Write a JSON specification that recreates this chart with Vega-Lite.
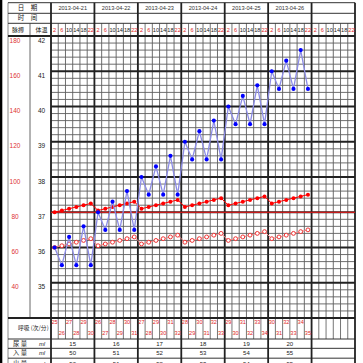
{
"$schema":"https://vega.github.io/schema/vega-lite/v6.json",
"width":304,"height":282,
"autosize":{"type":"none"},
"padding":{"left":51,"top":36,"right":8,"bottom":45},
"background":"white",
"config":{"view":{"stroke":null},"text":{"font":"Liberation Sans","fontSize":5.6,"baseline":"middle","align":"center"}},
"datasets":{
"slots":[
{"slot":0,"hour":2,"date":"2013-04-21","temp":36.0,"pulse":80,"hr":60,"resp":25},
{"slot":1,"hour":6,"date":"2013-04-21","temp":35.5,"pulse":81,"hr":61,"resp":26},
{"slot":2,"hour":10,"date":"2013-04-21","temp":36.3,"pulse":82,"hr":62,"resp":27},
{"slot":3,"hour":14,"date":"2013-04-21","temp":35.5,"pulse":83,"hr":63,"resp":28},
{"slot":4,"hour":18,"date":"2013-04-21","temp":36.6,"pulse":84,"hr":64,"resp":29},
{"slot":5,"hour":22,"date":"2013-04-21","temp":35.5,"pulse":85,"hr":65,"resp":30},
{"slot":6,"hour":2,"date":"2013-04-22","temp":37.0,"pulse":81,"hr":61,"resp":26},
{"slot":7,"hour":6,"date":"2013-04-22","temp":36.5,"pulse":82,"hr":62,"resp":27},
{"slot":8,"hour":10,"date":"2013-04-22","temp":37.3,"pulse":83,"hr":63,"resp":28},
{"slot":9,"hour":14,"date":"2013-04-22","temp":36.5,"pulse":84,"hr":64,"resp":29},
{"slot":10,"hour":18,"date":"2013-04-22","temp":37.6,"pulse":85,"hr":65,"resp":30},
{"slot":11,"hour":22,"date":"2013-04-22","temp":36.5,"pulse":86,"hr":66,"resp":31},
{"slot":12,"hour":2,"date":"2013-04-23","temp":38.0,"pulse":82,"hr":62,"resp":27},
{"slot":13,"hour":6,"date":"2013-04-23","temp":37.5,"pulse":83,"hr":63,"resp":28},
{"slot":14,"hour":10,"date":"2013-04-23","temp":38.3,"pulse":84,"hr":64,"resp":29},
{"slot":15,"hour":14,"date":"2013-04-23","temp":37.5,"pulse":85,"hr":65,"resp":30},
{"slot":16,"hour":18,"date":"2013-04-23","temp":38.6,"pulse":86,"hr":66,"resp":31},
{"slot":17,"hour":22,"date":"2013-04-23","temp":37.5,"pulse":87,"hr":67,"resp":32},
{"slot":18,"hour":2,"date":"2013-04-24","temp":39.0,"pulse":83,"hr":63,"resp":28},
{"slot":19,"hour":6,"date":"2013-04-24","temp":38.5,"pulse":84,"hr":64,"resp":29},
{"slot":20,"hour":10,"date":"2013-04-24","temp":39.3,"pulse":85,"hr":65,"resp":30},
{"slot":21,"hour":14,"date":"2013-04-24","temp":38.5,"pulse":86,"hr":66,"resp":31},
{"slot":22,"hour":18,"date":"2013-04-24","temp":39.6,"pulse":87,"hr":67,"resp":32},
{"slot":23,"hour":22,"date":"2013-04-24","temp":38.5,"pulse":88,"hr":68,"resp":33},
{"slot":24,"hour":2,"date":"2013-04-25","temp":40.0,"pulse":84,"hr":64,"resp":29},
{"slot":25,"hour":6,"date":"2013-04-25","temp":39.5,"pulse":85,"hr":65,"resp":30},
{"slot":26,"hour":10,"date":"2013-04-25","temp":40.3,"pulse":86,"hr":66,"resp":31},
{"slot":27,"hour":14,"date":"2013-04-25","temp":39.5,"pulse":87,"hr":67,"resp":32},
{"slot":28,"hour":18,"date":"2013-04-25","temp":40.6,"pulse":88,"hr":68,"resp":33},
{"slot":29,"hour":22,"date":"2013-04-25","temp":39.5,"pulse":89,"hr":69,"resp":34},
{"slot":30,"hour":2,"date":"2013-04-26","temp":41.0,"pulse":85,"hr":65,"resp":30},
{"slot":31,"hour":6,"date":"2013-04-26","temp":40.5,"pulse":86,"hr":66,"resp":31},
{"slot":32,"hour":10,"date":"2013-04-26","temp":41.3,"pulse":87,"hr":67,"resp":32},
{"slot":33,"hour":14,"date":"2013-04-26","temp":40.5,"pulse":88,"hr":68,"resp":33},
{"slot":34,"hour":18,"date":"2013-04-26","temp":41.6,"pulse":89,"hr":69,"resp":34},
{"slot":35,"hour":22,"date":"2013-04-26","temp":40.5,"pulse":90,"hr":70,"resp":35},
{"slot":36,"hour":2},
{"slot":37,"hour":6},
{"slot":38,"hour":10},
{"slot":39,"hour":14},
{"slot":40,"hour":18},
{"slot":41,"hour":22}
],
"days":[
{"date":"2013-04-21","urine":15,"intake":50,"output":50},
{"date":"2013-04-22","urine":16,"intake":51,"output":51},
{"date":"2013-04-23","urine":17,"intake":52,"output":52},
{"date":"2013-04-24","urine":18,"intake":53,"output":53},
{"date":"2013-04-25","urine":19,"intake":54,"output":54},
{"date":"2013-04-26","urine":20,"intake":55,"output":55}
],
"scale":[
{"temp":42,"pulse":180},{"temp":41.8},{"temp":41.6},{"temp":41.4},{"temp":41.2},
{"temp":41,"pulse":160},{"temp":40.8},{"temp":40.6},{"temp":40.4},{"temp":40.2},
{"temp":40,"pulse":140},{"temp":39.8},{"temp":39.6},{"temp":39.4},{"temp":39.2},
{"temp":39,"pulse":120},{"temp":38.8},{"temp":38.6},{"temp":38.4},{"temp":38.2},
{"temp":38,"pulse":100},{"temp":37.8},{"temp":37.6},{"temp":37.4},{"temp":37.2},
{"temp":37,"pulse":80},{"temp":36.8},{"temp":36.6},{"temp":36.4},{"temp":36.2},
{"temp":36,"pulse":60},{"temp":35.8},{"temp":35.6},{"temp":35.4},{"temp":35.2},
{"temp":35,"pulse":40},{"temp":34.8},{"temp":34.6},{"temp":34.4},{"temp":34.2}
]
},
"resolve":{"scale":{"y":"independent"}},
"layer":[
{"layer":[
 {"data":{"name":"scale"},"transform":[{"filter":"!isValid(datum.pulse)"}],"mark":{"type":"rule","color":"#5e5e5e","strokeWidth":0.9},"encoding":{"x":{"datum":0,"type":"quantitative","scale":{"domain":[0,42],"nice":false,"zero":false},"axis":null},"x2":{"datum":42},"y":{"field":"temp","type":"quantitative","scale":{"domain":[34,42],"nice":false,"zero":false},"axis":null}}},
 {"data":{"name":"slots"},"mark":{"type":"rule","color":"#5e5e5e","strokeWidth":0.9},"encoding":{"x":{"field":"slot","type":"quantitative","axis":null},"y":{"datum":42,"type":"quantitative","axis":null},"y2":{"datum":34}}},
 {"data":{"values":[{}]},"mark":{"type":"rule","color":"#000000","strokeWidth":2.5},"encoding":{"x":{"datum":-6.9,"type":"quantitative","axis":null},"y":{"datum":43.1,"type":"quantitative","axis":null},"y2":{"datum":32.6}}},
 {"data":{"values":[{}]},"mark":{"type":"rule","color":"#8a8a8a","strokeWidth":1},"encoding":{"x":{"datum":-5.94,"type":"quantitative","axis":null},"y":{"datum":42.945,"type":"quantitative","axis":null},"y2":{"datum":32.6}}},
 {"data":{"values":[{}]},"mark":{"type":"rule","color":"#9a9a9a","strokeWidth":1.5},"encoding":{"x":{"datum":-2.9,"type":"quantitative","axis":null},"y":{"datum":42.36,"type":"quantitative","axis":null},"y2":{"datum":34}}},
 {"data":{"name":"slots"},"mark":{"type":"rule","color":"#666666","strokeWidth":0.9},"encoding":{"x":{"field":"slot","type":"quantitative","axis":null},"y":{"datum":42.36,"type":"quantitative","axis":null},"y2":{"datum":42}}},
 {"data":{"name":"slots"},"mark":{"type":"rule","color":"#666666","strokeWidth":0.9},"encoding":{"x":{"field":"slot","type":"quantitative","axis":null},"y":{"datum":34,"type":"quantitative","axis":null},"y2":{"datum":33.404}}},
 {"data":{"values":[{}]},"mark":{"type":"rule","color":"#333333","strokeWidth":1},"encoding":{"x":{"datum":-5.94,"type":"quantitative","axis":null},"x2":{"datum":42},"y":{"datum":42.945,"type":"quantitative","axis":null}}},
 {"data":{"values":[{}]},"mark":{"type":"rule","color":"#333333","strokeWidth":1},"encoding":{"x":{"datum":-5.94,"type":"quantitative","axis":null},"x2":{"datum":42},"y":{"datum":42.644,"type":"quantitative","axis":null}}},
 {"data":{"values":[{}]},"mark":{"type":"rule","color":"#333333","strokeWidth":1},"encoding":{"x":{"datum":-5.94,"type":"quantitative","axis":null},"x2":{"datum":42},"y":{"datum":42.36,"type":"quantitative","axis":null}}},
 {"data":{"values":[{}]},"mark":{"type":"rule","color":"#222222","strokeWidth":1.8},"encoding":{"x":{"datum":-5.94,"type":"quantitative","axis":null},"x2":{"datum":42},"y":{"datum":42,"type":"quantitative","axis":null}}},
 {"data":{"values":[{}]},"mark":{"type":"rule","color":"#222222","strokeWidth":1.8},"encoding":{"x":{"datum":-5.94,"type":"quantitative","axis":null},"x2":{"datum":42},"y":{"datum":34,"type":"quantitative","axis":null}}},
 {"data":{"values":[{}]},"mark":{"type":"rule","color":"#333333","strokeWidth":1},"encoding":{"x":{"datum":-5.94,"type":"quantitative","axis":null},"x2":{"datum":42},"y":{"datum":33.404,"type":"quantitative","axis":null}}},
 {"data":{"values":[{}]},"mark":{"type":"rule","color":"#333333","strokeWidth":1},"encoding":{"x":{"datum":-5.94,"type":"quantitative","axis":null},"x2":{"datum":42},"y":{"datum":33.14,"type":"quantitative","axis":null}}},
 {"data":{"values":[{}]},"mark":{"type":"rule","color":"#333333","strokeWidth":1},"encoding":{"x":{"datum":-5.94,"type":"quantitative","axis":null},"x2":{"datum":42},"y":{"datum":32.86,"type":"quantitative","axis":null}}},
 {"data":{"name":"scale"},"transform":[{"filter":"isValid(datum.pulse)"}],"mark":{"type":"rule","color":"#222222","strokeWidth":1.8},"encoding":{"x":{"datum":0,"type":"quantitative","axis":null},"x2":{"datum":42},"y":{"field":"temp","type":"quantitative","axis":null}}},
 {"data":{"name":"slots"},"transform":[{"filter":"datum.hour === 2"}],"mark":{"type":"rule","color":"#222222","strokeWidth":1.8},"encoding":{"x":{"field":"slot","type":"quantitative","axis":null},"y":{"datum":42.945,"type":"quantitative","axis":null},"y2":{"datum":32.6}}},
 {"data":{"values":[{}]},"mark":{"type":"rule","color":"#222222","strokeWidth":1.8},"encoding":{"x":{"datum":42,"type":"quantitative","axis":null},"y":{"datum":42.945,"type":"quantitative","axis":null},"y2":{"datum":32.6}}},
 {"data":{"values":[{}]},"mark":{"type":"rule","color":"#ff1a1a","strokeWidth":1.2},"encoding":{"x":{"datum":0,"type":"quantitative","axis":null},"x2":{"datum":42},"y":{"datum":37,"type":"quantitative","axis":null}}},
 {"data":{"values":[{}]},"mark":{"type":"text","text":"日　期","font":"Noto Sans CJK SC","fontSize":6.5,"color":"#222222"},"encoding":{"x":{"datum":-3.25,"type":"quantitative","axis":null},"y":{"datum":42.794,"type":"quantitative","axis":null}}},
 {"data":{"values":[{}]},"mark":{"type":"text","text":"时　间","font":"Noto Sans CJK SC","fontSize":6.5,"color":"#222222"},"encoding":{"x":{"datum":-3.25,"type":"quantitative","axis":null},"y":{"datum":42.502,"type":"quantitative","axis":null}}},
 {"data":{"values":[{}]},"mark":{"type":"text","text":"脉搏","font":"Noto Sans CJK SC","fontSize":6,"color":"#222222"},"encoding":{"x":{"datum":-4.56,"type":"quantitative","axis":null},"y":{"datum":42.184,"type":"quantitative","axis":null}}},
 {"data":{"values":[{}]},"mark":{"type":"text","text":"体温","font":"Noto Sans CJK SC","fontSize":6,"color":"#222222"},"encoding":{"x":{"datum":-1.31,"type":"quantitative","axis":null},"y":{"datum":42.184,"type":"quantitative","axis":null}}},
 {"data":{"values":[{}]},"mark":{"type":"text","text":"呼吸 (次/分)","font":"Noto Sans CJK SC","fontSize":5.8,"color":"#222222"},"encoding":{"x":{"datum":-2.45,"type":"quantitative","axis":null},"y":{"datum":33.73,"type":"quantitative","axis":null}}},
 {"data":{"values":[{}]},"mark":{"type":"text","text":"尿  量","font":"Noto Sans CJK SC","fontSize":6.3,"color":"#222222"},"encoding":{"x":{"datum":-4.28,"type":"quantitative","axis":null},"y":{"datum":33.271,"type":"quantitative","axis":null}}},
 {"data":{"values":[{}]},"mark":{"type":"text","text":"入  量","font":"Noto Sans CJK SC","fontSize":6.3,"color":"#222222"},"encoding":{"x":{"datum":-4.28,"type":"quantitative","axis":null},"y":{"datum":32.999,"type":"quantitative","axis":null}}},
 {"data":{"values":[{}]},"mark":{"type":"text","text":"出  量","font":"Noto Sans CJK SC","fontSize":6.3,"color":"#222222"},"encoding":{"x":{"datum":-4.28,"type":"quantitative","axis":null},"y":{"datum":32.70,"type":"quantitative","axis":null}}},
 {"data":{"values":[{}]},"mark":{"type":"text","text":"ml","fontSize":5.8,"fontStyle":"italic","color":"#222222"},"encoding":{"x":{"datum":-1.24,"type":"quantitative","axis":null},"y":{"datum":33.271,"type":"quantitative","axis":null}}},
 {"data":{"values":[{}]},"mark":{"type":"text","text":"ml","fontSize":5.8,"fontStyle":"italic","color":"#222222"},"encoding":{"x":{"datum":-1.24,"type":"quantitative","axis":null},"y":{"datum":32.999,"type":"quantitative","axis":null}}},
 {"data":{"values":[{}]},"mark":{"type":"text","text":"ml","fontSize":5.8,"fontStyle":"italic","color":"#222222"},"encoding":{"x":{"datum":-1.24,"type":"quantitative","axis":null},"y":{"datum":32.70,"type":"quantitative","axis":null}}},
 {"data":{"name":"scale"},"transform":[{"filter":"isValid(datum.pulse)"}],"mark":{"type":"text","fontSize":6.5,"dy":4.7,"color":"#222222"},"encoding":{"x":{"datum":-1.31,"type":"quantitative","axis":null},"y":{"field":"temp","type":"quantitative","axis":null},"text":{"field":"temp"}}},
 {"data":{"name":"scale"},"transform":[{"filter":"isValid(datum.pulse)"}],"mark":{"type":"text","fontSize":6.5,"dy":4.7,"color":"#dd3333"},"encoding":{"x":{"datum":-4.97,"type":"quantitative","axis":null},"y":{"field":"temp","type":"quantitative","axis":null},"text":{"field":"pulse"}}},
 {"data":{"name":"slots"},"transform":[{"filter":"datum.hour === 14 && isValid(datum.date)"}],"mark":{"type":"text","fontSize":5.6,"color":"#333333"},"encoding":{"x":{"field":"slot","type":"quantitative","axis":null},"y":{"datum":42.794,"type":"quantitative","axis":null},"text":{"field":"date"}}},
 {"data":{"name":"slots"},"mark":{"type":"text","fontSize":5.6,"xOffset":3.619},"encoding":{"x":{"field":"slot","type":"quantitative","axis":null},"y":{"datum":42.184,"type":"quantitative","axis":null},"text":{"field":"hour"},"color":{"condition":{"test":"datum.hour <= 6 || datum.hour >= 22","value":"#e02828"},"value":"#222222"}}},
 {"data":{"name":"slots"},"transform":[{"filter":"isValid(datum.resp) && (datum.hour === 2 || datum.hour === 10 || datum.hour === 18)"}],"mark":{"type":"text","fontSize":5.6,"xOffset":3.619,"color":"#e02828"},"encoding":{"x":{"field":"slot","type":"quantitative","axis":null},"y":{"datum":33.895,"type":"quantitative","axis":null},"text":{"field":"resp"}}},
 {"data":{"name":"slots"},"transform":[{"filter":"isValid(datum.resp) && (datum.hour === 6 || datum.hour === 14 || datum.hour === 22)"}],"mark":{"type":"text","fontSize":5.6,"xOffset":3.619,"color":"#e02828"},"encoding":{"x":{"field":"slot","type":"quantitative","axis":null},"y":{"datum":33.574,"type":"quantitative","axis":null},"text":{"field":"resp"}}},
 {"data":{"name":"slots"},"transform":[{"filter":"datum.hour === 14 && isValid(datum.date)"},{"lookup":"date","from":{"data":{"name":"days"},"key":"date","fields":["urine","intake","output"]}}],
  "layer":[
   {"mark":{"type":"text","fontSize":6,"color":"#222222"},"encoding":{"x":{"field":"slot","type":"quantitative","axis":null},"y":{"datum":33.271,"type":"quantitative","axis":null},"text":{"field":"urine"}}},
   {"mark":{"type":"text","fontSize":6,"color":"#222222"},"encoding":{"x":{"field":"slot","type":"quantitative","axis":null},"y":{"datum":32.999,"type":"quantitative","axis":null},"text":{"field":"intake"}}},
   {"mark":{"type":"text","fontSize":6,"color":"#222222"},"encoding":{"x":{"field":"slot","type":"quantitative","axis":null},"y":{"datum":32.70,"type":"quantitative","axis":null},"text":{"field":"output"}}}
  ]}
]},
{"data":{"name":"slots"},"transform":[{"filter":"isValid(datum.pulse)"}],
 "layer":[
  {"mark":{"type":"line","color":"#f08888","strokeWidth":1,"xOffset":3.619},"encoding":{"x":{"field":"slot","type":"quantitative","axis":null},"y":{"field":"hr","type":"quantitative","scale":{"domain":[20,180],"nice":false,"zero":false},"axis":null}}},
  {"mark":{"type":"point","shape":"circle","filled":true,"fill":"#ffffff","stroke":"#ee3333","strokeWidth":1,"size":15,"opacity":1,"xOffset":3.619},"encoding":{"x":{"field":"slot","type":"quantitative","axis":null},"y":{"field":"hr","type":"quantitative","scale":{"domain":[20,180],"nice":false,"zero":false},"axis":null}}},
  {"mark":{"type":"line","color":"#ff0000","strokeWidth":1,"xOffset":3.619},"encoding":{"x":{"field":"slot","type":"quantitative","axis":null},"y":{"field":"pulse","type":"quantitative","scale":{"domain":[20,180],"nice":false,"zero":false},"axis":null}}},
  {"mark":{"type":"point","shape":"circle","filled":true,"color":"#ff0000","size":16,"opacity":1,"xOffset":3.619},"encoding":{"x":{"field":"slot","type":"quantitative","axis":null},"y":{"field":"pulse","type":"quantitative","scale":{"domain":[20,180],"nice":false,"zero":false},"axis":null}}}
 ]},
{"data":{"name":"slots"},"transform":[{"filter":"isValid(datum.temp)"}],
 "layer":[
  {"mark":{"type":"line","color":"#8c8ce6","strokeWidth":1.3,"xOffset":3.619},"encoding":{"x":{"field":"slot","type":"quantitative","axis":null},"y":{"field":"temp","type":"quantitative","scale":{"domain":[34,42],"nice":false,"zero":false},"axis":null}}},
  {"mark":{"type":"point","shape":"circle","filled":true,"color":"#0000ff","size":17,"opacity":1,"xOffset":3.619},"encoding":{"x":{"field":"slot","type":"quantitative","axis":null},"y":{"field":"temp","type":"quantitative","scale":{"domain":[34,42],"nice":false,"zero":false},"axis":null}}}
 ]}
]
}
